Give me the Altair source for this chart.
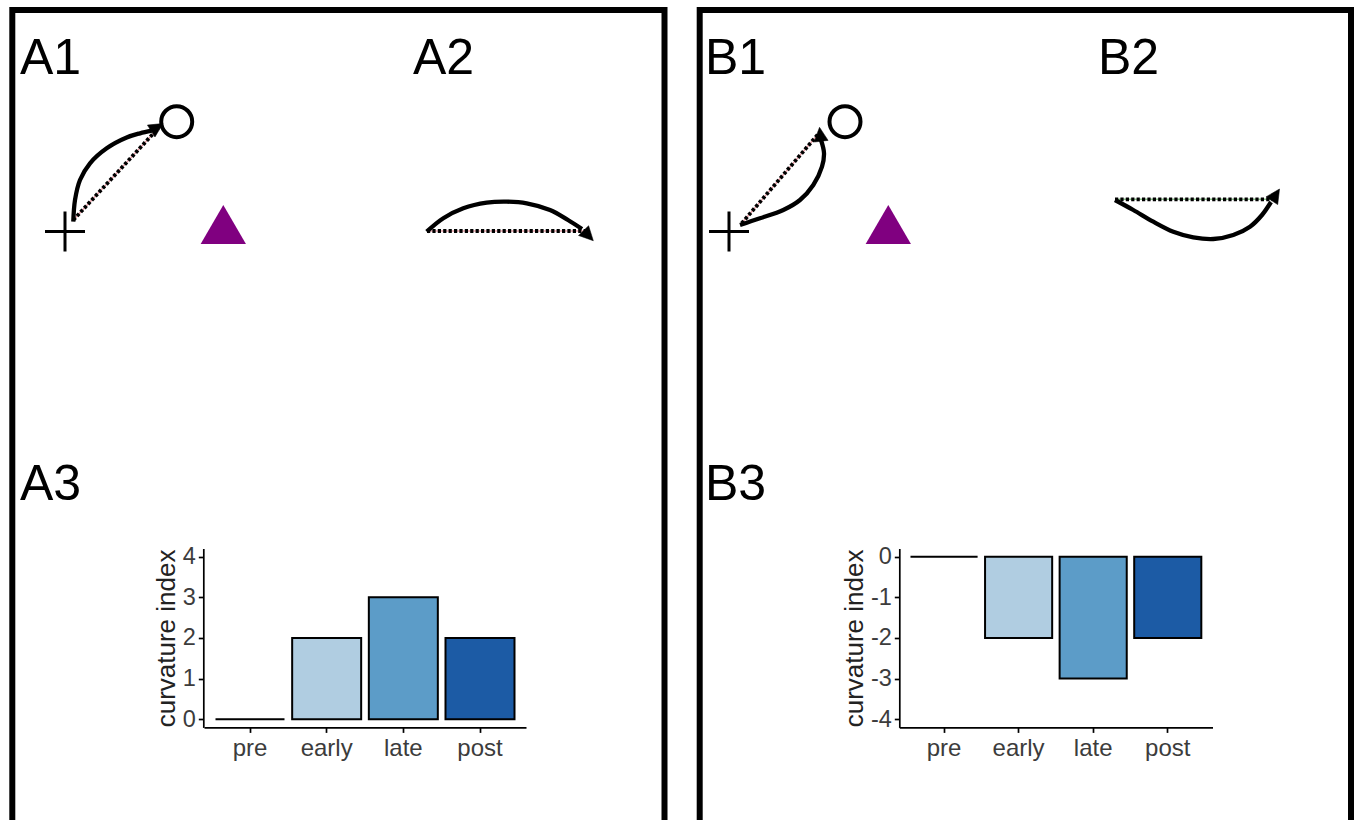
import math
import altair as alt
import pandas as pd

W, H = 1354, 820
FONT = "Liberation Sans"

# ---- bar panels (A3, B3) ----
stages = ["pre", "early", "late", "post"]
curv_a = [0, 2, 3, 2]
curv_b = [0, -2, -3, -2]
stage_fill = ["#ffffff", "#b0cde1", "#5c9cc8", "#1c5ba5"]
ticks_a = [0, 1, 2, 3, 4]
ticks_b = [-4, -3, -2, -1, 0]

# ---- panel letters ----
label_text = ["A1", "A2", "A3", "B1", "B2", "B3"]
label_x = [20, 413, 20, 705, 1098, 705]
label_y = [74, 74, 500, 74, 74, 500]

# ---- outer frames ----
frame_x0 = [12.3, 699.7]
frame_x1 = [664.5, 1351]
frame_y0 = [10, 10]
frame_y1 = [840, 840]

# ---- start cross, target circle, obstacle triangle ----
start_x = [65, 729]
start_y = [231.5, 231.5]
goal_x = [176.7, 845]
goal_y = [121.7, 121.7]
obst_x = [223.3, 888.3]
obst_y = [224.5, 224.5]

# ---- movement trajectories (end at the arrowhead base) ----
path_a1 = [(73.3, 221.7), (75, 200), (80, 180), (90, 163.3), (106.7, 148.3),
           (126.7, 137.5), (140, 133.3), (151.7, 130.7)]
path_a2 = [(426.7, 231.7), (443.3, 218.3), (463.3, 208.3), (486.7, 202.7),
           (506.7, 201.7), (526.7, 203.3), (550, 210), (568, 220), (582, 229)]
path_b1 = [(740, 225), (760, 218.3), (783.3, 210), (800, 200), (813.3, 185),
           (822, 166.7), (824, 153), (821, 140)]
path_b2 = [(1115, 200), (1133.3, 210), (1153.3, 221.7), (1173.3, 231.7),
           (1193.3, 237.3), (1213.3, 239), (1233.3, 235), (1250, 226.7),
           (1262, 215), (1271, 202)]
tip_a1 = (163.0, 123.5)
tip_a2 = (593.3, 240.7)
tip_b1 = (819.5, 127.3)
tip_b2 = (1279.5, 189.0)

# ---- straight start-to-target references (dotted) ----
ref_a1 = [(73.3, 220), (158, 128.5)]
ref_a2 = [(427, 231), (585, 231)]
ref_b1 = [(741.7, 223.3), (820, 132)]
ref_b2 = [(1115, 199.3), (1272, 199.3)]
ref_tint = ["#e8a0a8", "#e8a0a8", "#e8a0a8", "#8cc08c"]

# ---------------------------------------------------------------
xs = alt.Scale(domain=[0, W], range=[0, W], nice=False, zero=False)
ys = alt.Scale(domain=[0, H], range=[0, H], nice=False, zero=False)


def X(f="x"):
    return alt.X(f, type="quantitative", scale=xs, axis=None)


def Y(f="y"):
    return alt.Y(f, type="quantitative", scale=ys, axis=None)


frames = pd.DataFrame({"x": frame_x0, "x2": frame_x1, "y": frame_y0, "y2": frame_y1})
frame_layer = alt.Chart(frames).mark_rect(
    fillOpacity=0, stroke="black", strokeWidth=6
).encode(x=X(), x2="x2:Q", y=Y(), y2="y2:Q")

labels = pd.DataFrame({"x": label_x, "y": label_y, "t": label_text})
label_layer = alt.Chart(labels).mark_text(
    font=FONT, fontSize=50, align="left", baseline="alphabetic", color="black"
).encode(x=X(), y=Y(), text="t:N")

paths = {"a1": path_a1, "a2": path_a2, "b1": path_b1, "b2": path_b2}
tips = {"a1": tip_a1, "a2": tip_a2, "b1": tip_b1, "b2": tip_b2}
refs = {"a1": ref_a1, "a2": ref_a2, "b1": ref_b1, "b2": ref_b2}

path_rows = [
    {"path": k, "i": i, "x": px, "y": py}
    for k, pts in paths.items() for i, (px, py) in enumerate(pts)
]
curve_layer = alt.Chart(pd.DataFrame(path_rows)).mark_line(
    interpolate="catmull-rom", color="black", strokeWidth=4.3, strokeCap="butt"
).encode(x=X(), y=Y(), detail="path:N", order="i:Q")

head_rows = []
for k, pts in paths.items():
    bx, by = pts[-1]
    tx, ty = tips[k]
    ang = math.degrees(math.atan2(tx - bx, -(ty - by))) % 360
    head_rows.append({"x": tx, "y": ty, "angle": ang})
head_layer = alt.Chart(pd.DataFrame(head_rows)).mark_point(
    shape="M0,0L-1,2L1,2Z", size=196, filled=True, fill="black",
    stroke="black", strokeWidth=0.5, opacity=1
).encode(x=X(), y=Y(), angle=alt.Angle("angle:Q", scale=None))

ref_rows = [
    {"path": k, "i": i, "x": px, "y": py, "tint": ref_tint[j]}
    for j, (k, pts) in enumerate(refs.items()) for i, (px, py) in enumerate(pts)
]
ref_df = pd.DataFrame(ref_rows)
ref_tint_layer = alt.Chart(ref_df).mark_line(strokeWidth=1.5).encode(
    x=X(), y=Y(), detail="path:N", order="i:Q",
    color=alt.Color("tint:N", scale=None)
)
ref_dot_layer = alt.Chart(ref_df).mark_line(
    color="black", strokeWidth=3.8, strokeDash=[3.2, 2.2], strokeCap="butt"
).encode(x=X(), y=Y(), detail="path:N", order="i:Q")

cross_layer = alt.Chart(pd.DataFrame({"x": start_x, "y": start_y})).mark_point(
    shape="M-1,0L1,0M0,-1L0,1", size=1600, filled=False,
    stroke="black", strokeWidth=3, opacity=1
).encode(x=X(), y=Y())

goal_layer = alt.Chart(pd.DataFrame({"x": goal_x, "y": goal_y})).mark_point(
    shape="circle", size=961, filled=False, stroke="black", strokeWidth=4, opacity=1
).encode(x=X(), y=Y())

obst_layer = alt.Chart(pd.DataFrame({"x": obst_x, "y": obst_y})).mark_point(
    shape="triangle-up", size=2052, filled=True, fill="#800080", strokeWidth=0, opacity=1
).encode(x=X(), y=Y())

diagram = alt.layer(
    frame_layer, ref_tint_layer, ref_dot_layer, curve_layer, head_layer,
    cross_layer, goal_layer, obst_layer, label_layer
)

# ---- bar charts with their own scales and axes ----
AXIS_Y = 727.4
Y_RANGE = [727.4, 548.5]


def bar_panel(values, x_range, y_domain, y_ticks, y_axis_x):
    df = pd.DataFrame({"stage": stages, "value": values, "base": [0] * len(stages)})
    return alt.Chart(df).mark_bar(stroke="black", strokeWidth=2).encode(
        x=alt.X(
            "stage:N", sort=stages,
            scale=alt.Scale(domain=stages, range=x_range, paddingInner=0.1, paddingOuter=0.15),
            axis=alt.Axis(
                orient="bottom", offset=AXIS_Y - H, title=None, grid=False,
                labelAngle=0, labelFont=FONT, labelFontSize=24, labelColor="#3c3c3c",
                labelPadding=4, tickSize=5, tickWidth=1.7, tickColor="black",
                domainWidth=1.7, domainColor="black",
            ),
        ),
        y=alt.Y(
            "value:Q",
            scale=alt.Scale(domain=y_domain, range=Y_RANGE, nice=False, zero=False),
            axis=alt.Axis(
                orient="left", offset=-y_axis_x, values=y_ticks, grid=False,
                labelExpr="toString(datum.value)",
                title="curvature index", titleFont=FONT, titleFontSize=26,
                titleFontWeight="normal", titleColor="#222222", titlePadding=3,
                labelFont=FONT, labelFontSize=23.5, labelColor="#3c3c3c",
                labelPadding=3, tickSize=5, tickWidth=1.7, tickColor="black",
                domainWidth=1.7, domainColor="black",
            ),
        ),
        y2="base:Q",
        color=alt.Color("stage:N", scale=alt.Scale(domain=stages, range=stage_fill), legend=None),
    )


bars_a = bar_panel(curv_a, [204, 526], [-0.2, 4.2], ticks_a, 203.3)
bars_b = bar_panel(curv_b, [899.3, 1212.5], [-4.2, 0.2], ticks_b, 899.3)

chart = (
    alt.layer(diagram, bars_a, bars_b)
    .resolve_scale(x="independent", y="independent")
    .resolve_axis(x="independent", y="independent")
    .properties(width=W, height=H, autosize="none", padding=0, background="white")
    .configure_view(stroke=None)
)

chart.save("out.html", embed_options={"renderer": "svg", "actions": False})
